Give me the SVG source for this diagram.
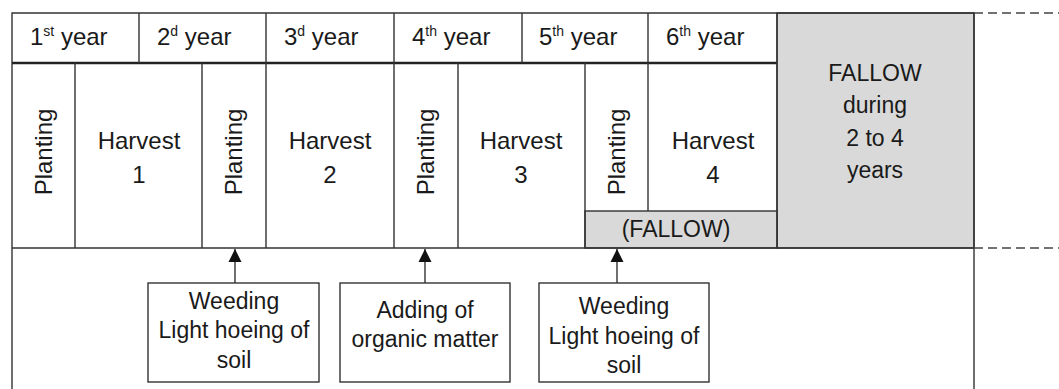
<svg xmlns="http://www.w3.org/2000/svg" width="1059" height="389" viewBox="0 0 1059 389">
<style>
.ln{stroke:#333;stroke-width:1.4;fill:none}
.thick{stroke:#222;stroke-width:2.4;fill:none}
.grey{fill:#d9d9d9;stroke:#333;stroke-width:1.4}
.box{fill:#fff;stroke:#333;stroke-width:1.4}
.dash{stroke:#444;stroke-width:1.4;stroke-dasharray:9 5;fill:none}
text{font-family:"Liberation Sans",Arial,sans-serif;fill:#1a1a1a}
.t{font-size:24px}
.m{font-size:24px;text-anchor:middle}
.s{font-size:23px;text-anchor:middle}
.sup{font-size:14px}
</style>
<defs>
<marker id="ah" markerUnits="userSpaceOnUse" markerWidth="14" markerHeight="14" refX="13" refY="7" orient="auto">
<path d="M0,0.5 L13,7 L0,13.5 Z" fill="#111"/>
</marker>
</defs>
<rect width="1059" height="389" fill="#fff"/>
<g id="fallow-big"><rect class="grey" x="777" y="13" width="197" height="235"/>
<text class="s" x="875" y="81">FALLOW</text><text class="s" x="875" y="113">during</text><text class="s" x="875" y="146">2 to 4</text><text class="s" x="875" y="178">years</text></g>
<g id="fallow-small"><rect class="grey" x="585" y="211" width="192" height="37"/><text class="s" x="676" y="237">(FALLOW)</text></g>
<g id="frame">
<path class="ln" d="M12,389 V13 H974 V389 M12,248 H974"/>
<path class="thick" d="M12,63 H777"/>
<path class="ln" d="M139,13 V63 M266,13 V63 M394,13 V63 M522,13 V63 M648,13 V63 M777,13 V248"/>
<path class="ln" d="M75,63 V248 M202,63 V248 M266,63 V248 M394,63 V248 M458,63 V248 M585,63 V248 M648,63 V211"/>
<path class="dash" d="M974,13 H1059 M974,248 H1059"/>
</g>
<g id="years">
<text class="t" x="30" y="45">1<tspan class="sup" dy="-9">st</tspan><tspan dy="9"> year</tspan></text>
<text class="t" x="157" y="45">2<tspan class="sup" dy="-9">d</tspan><tspan dy="9"> year</tspan></text>
<text class="t" x="284" y="45">3<tspan class="sup" dy="-9">d</tspan><tspan dy="9"> year</tspan></text>
<text class="t" x="412" y="45">4<tspan class="sup" dy="-9">th</tspan><tspan dy="9"> year</tspan></text>
<text class="t" x="539" y="45">5<tspan class="sup" dy="-9">th</tspan><tspan dy="9"> year</tspan></text>
<text class="t" x="666" y="45">6<tspan class="sup" dy="-9">th</tspan><tspan dy="9"> year</tspan></text>
</g>
<g id="planting">
<text class="m" transform="translate(52,152) rotate(-90)">Planting</text>
<text class="m" transform="translate(242,152) rotate(-90)">Planting</text>
<text class="m" transform="translate(434,152) rotate(-90)">Planting</text>
<text class="m" transform="translate(625,152) rotate(-90)">Planting</text>
</g>
<g id="harvests">
<text class="m" x="139" y="149">Harvest</text><text class="m" x="139" y="183">1</text>
<text class="m" x="330" y="149">Harvest</text><text class="m" x="330" y="183">2</text>
<text class="m" x="521" y="149">Harvest</text><text class="m" x="521" y="183">3</text>
<text class="m" x="713" y="149">Harvest</text><text class="m" x="713" y="183">4</text>
</g>
<g id="connectors">
<line class="ln" x1="235" y1="283" x2="235" y2="249" marker-end="url(#ah)"/>
<line class="ln" x1="425" y1="283" x2="425" y2="249" marker-end="url(#ah)"/>
<line class="ln" x1="617" y1="283" x2="617" y2="249" marker-end="url(#ah)"/>
</g>
<g id="box1"><rect class="box" x="148" y="283" width="171" height="99"/>
<text class="s" x="234" y="309">Weeding</text><text class="s" x="234" y="338">Light hoeing of</text><text class="s" x="234" y="368">soil</text></g>
<g id="box2"><rect class="box" x="340" y="283" width="170" height="99"/>
<text class="s" x="425" y="318">Adding of</text><text class="s" x="425" y="347">organic matter</text></g>
<g id="box3"><rect class="box" x="539" y="283" width="170" height="99"/>
<text class="s" x="624" y="314">Weeding</text><text class="s" x="624" y="344">Light hoeing of</text><text class="s" x="624" y="373">soil</text></g>
</svg>
